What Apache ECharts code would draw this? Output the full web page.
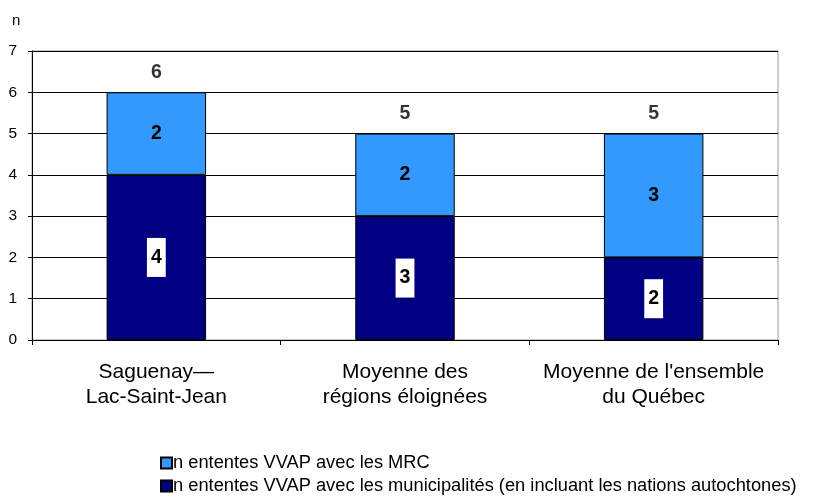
<!DOCTYPE html>
<html><head><meta charset="utf-8">
<script src="https://cdn.jsdelivr.net/npm/echarts@6/dist/echarts.min.js"></script>
<style>html,body{margin:0;padding:0;background:#fff}#c{width:818px;height:501px}</style>
</head><body><div id="c"></div>
<script>
const categories = ["Saguenay\u2014\nLac-Saint-Jean", "Moyenne des\nrégions éloignées", "Moyenne de l'ensemble\ndu Québec"];
const municipalites = [4, 3, 2];
const mrc = [2, 2, 3];
const totals = [6, 5, 5];
const seriesNames = ["n ententes VVAP avec les MRC", "n ententes VVAP avec les municipalités (en incluant les nations autochtones)"];
const yTicks = [0, 7, 1];

const font = "'Liberation Sans', Arial, sans-serif";
const chart = echarts.init(document.getElementById('c'));
const legendCommon = {
  orient: 'horizontal', left: 155, itemWidth: 11, itemHeight: 11, icon: 'rect',
  textStyle: { fontFamily: font, fontSize: 18.3, color: '#000', padding: [0, 0, 0, -4] }
};
chart.setOption({
  animation: false,
  textStyle: { fontFamily: font },
  grid: { left: 32, right: 40, top: 51, bottom: 161, show: true, borderColor: '#999', borderWidth: 1 },
  legend: [
    Object.assign({}, legendCommon, { top: 449, data: [seriesNames[0]] }),
    Object.assign({}, legendCommon, { top: 472, data: [seriesNames[1]] })
  ],
  xAxis: {
    type: 'category', data: categories,
    axisLine: { lineStyle: { color: '#000', width: 1 } },
    axisTick: { show: true, interval: 0, length: 5, lineStyle: { color: '#000' } },
    axisLabel: { fontFamily: font, fontSize: 21, color: '#000', lineHeight: 25, margin: 20, interval: 0 }
  },
  yAxis: {
    type: 'value', min: yTicks[0], max: yTicks[1], interval: yTicks[2],
    axisLine: { show: true, lineStyle: { color: '#000' } },
    axisTick: { show: true, length: 4, lineStyle: { color: '#000' } },
    splitLine: { lineStyle: { color: '#000', width: 1 } },
    axisLabel: { fontFamily: font, fontSize: 15.5, color: '#000', margin: 15 }
  },
  graphic: [{ type: 'text', left: 12, top: 13, style: { text: 'n', font: "15px 'Liberation Sans', Arial", fill: '#000' } }],
  series: [
    {
      name: seriesNames[1], type: 'bar', stack: 's', data: municipalites, barWidth: '40%',
      itemStyle: { color: '#000080', borderColor: '#000', borderWidth: 1 },
      label: { show: true, position: 'inside', fontFamily: font, fontSize: 19.5, fontWeight: 'bold', color: '#000',
        backgroundColor: '#fff', padding: [10, 4, 9, 4] }
    },
    {
      name: seriesNames[0], type: 'bar', stack: 's', data: mrc, barWidth: '40%',
      itemStyle: { color: '#3399FF', borderColor: '#000', borderWidth: 1 },
      label: { show: true, position: 'inside', fontFamily: font, fontSize: 19.5, fontWeight: 'bold', color: '#000' }
    },
    {
      type: 'scatter', data: totals, symbolSize: 0, silent: true,
      label: { show: true, position: 'top', distance: 10, fontFamily: font, fontSize: 19.5, fontWeight: 'bold', color: '#000' }
    }
  ]
});
</script></body></html>
